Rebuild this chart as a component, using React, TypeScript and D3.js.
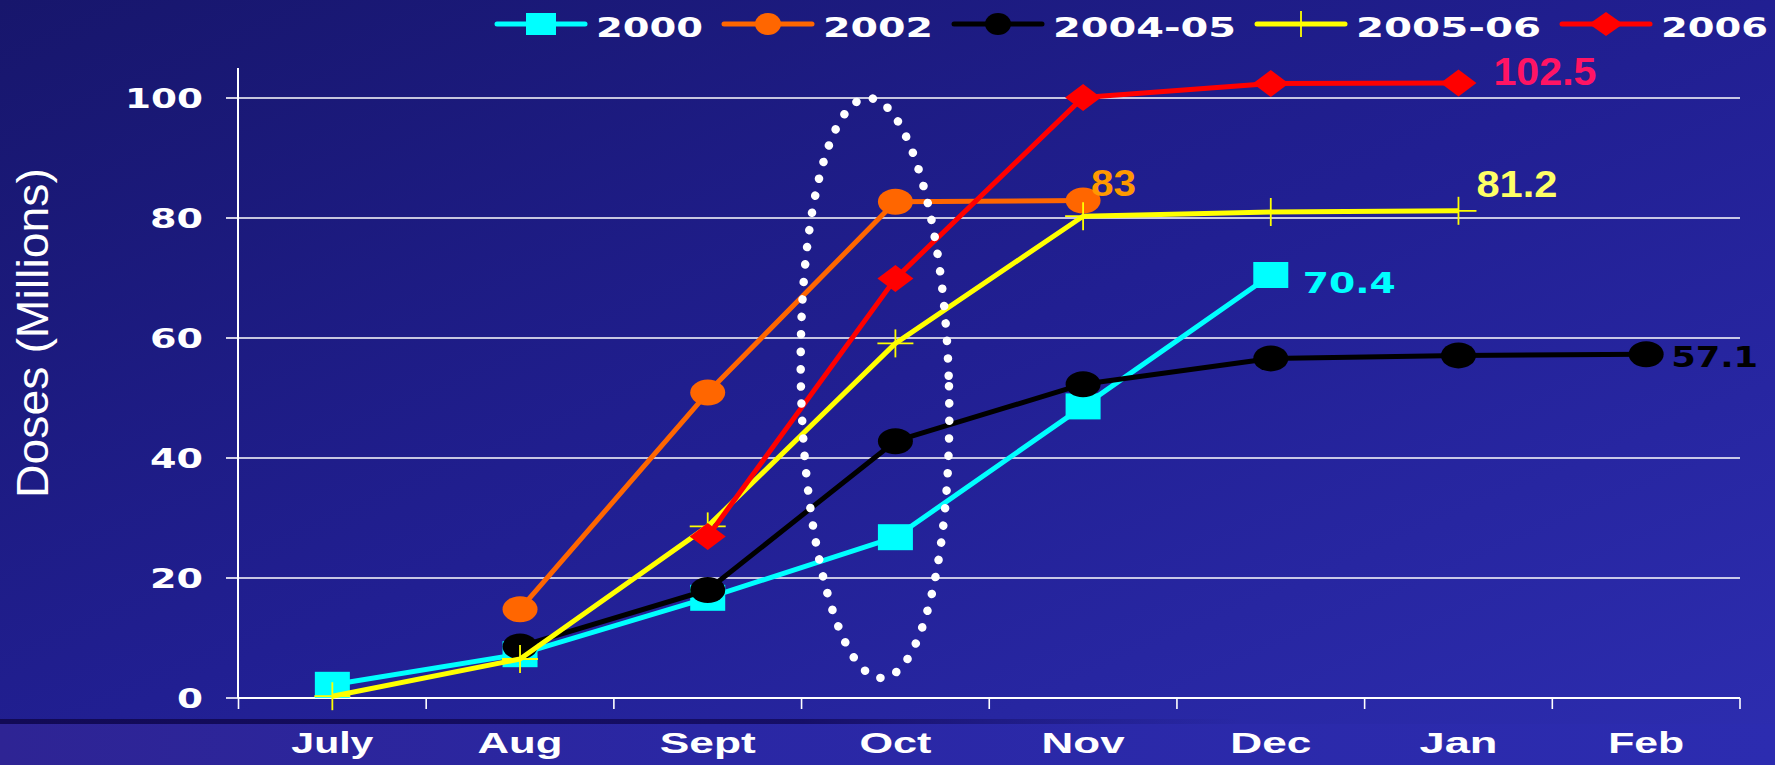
import React from "react";
import * as d3 from "d3";

const months = ["July", "Aug", "Sept", "Oct", "Nov", "Dec", "Jan", "Feb"];
const yTicks = [0, 20, 40, 60, 80, 100];

const seriesNames = ["2000", "2002", "2004-05", "2005-06", "2006"];
const s2000 = [2.2, 7.3, 16.7, 26.8, 48.6, 70.5, null, null];
const s2002 = [null, 14.8, 50.9, 82.7, 82.9, null, null, null];
const s2004 = [null, 8.6, 18.0, 42.8, 52.3, 56.6, 57.1, 57.3];
const s2005 = [0.3, 6.5, 28.6, 59.1, 80.3, 81.0, 81.2, null];
const s2006 = [null, null, 26.9, 69.9, 100.1, 102.4, 102.5, null];

const endLabels = ["70.4", "83", "57.1", "81.2", "102.5"];

const W = 1775;
const H = 765;

type Marker = "square" | "circle" | "ellipse" | "plus" | "diamond";

const styles: { color: string; marker: Marker; labelColor: string; label: { dx: number; dy: number; size: number; len: number; wide: boolean } }[] = [
  { color: "#00ffff", marker: "square", labelColor: "#00ffff", label: { dx: 32, dy: 18, size: 28, len: 93, wide: true } },
  { color: "#ff6600", marker: "circle", labelColor: "#ff9900", label: { dx: 8, dy: -5, size: 37, len: 45, wide: false } },
  { color: "#000000", marker: "circle", labelColor: "#000000", label: { dx: 25, dy: 13, size: 28, len: 87, wide: true } },
  { color: "#ffff00", marker: "plus", labelColor: "#ffff66", label: { dx: 18, dy: -14, size: 37, len: 81, wide: false } },
  { color: "#ff0000", marker: "diamond", labelColor: "#ff1464", label: { dx: 35, dy: 2, size: 38, len: 103, wide: false } },
];

const allSeries = [s2000, s2002, s2004, s2005, s2006];

function MarkerShape({ kind, x, y, color, w, h }: { kind: Marker; x: number; y: number; color: string; w: number; h: number }) {
  if (kind === "square") return <rect x={x - w / 2} y={y - h / 2} width={w} height={h} fill={color} />;
  if (kind === "circle" || kind === "ellipse") return <ellipse cx={x} cy={y} rx={w / 2} ry={h / 2} fill={color} />;
  if (kind === "diamond")
    return <path d={`M${x - w / 2},${y} L${x},${y - h / 2} L${x + w / 2},${y} L${x},${y + h / 2} Z`} fill={color} />;
  return (
    <g stroke={color} strokeWidth={1.8}>
      <line x1={x - w / 2} x2={x + w / 2} y1={y} y2={y} />
      <line x1={x} x2={x} y1={y - h / 2} y2={y + h / 2} />
    </g>
  );
}

export default function App() {
  const x = d3.scaleBand<string>().domain(months).range([238.5, 1740]).padding(0);
  const y = d3.scaleLinear().domain([0, 105]).range([698, 68]);
  const cx = (m: string) => (x(m) as number) + x.bandwidth() / 2;

  const line = d3
    .line<number | null>()
    .defined((d) => d !== null)
    .x((_, i) => cx(months[i]))
    .y((d) => y(d as number));

  const tickEdges = [...months.map((m) => x(m) as number), 1740];

  // legend layout
  const legendLine = 88;
  const legendTextW = [107, 110, 183, 185, 107];
  let lx = 497;
  const legendItems = seriesNames.map((name, i) => {
    const item = { name, x0: lx, tx: lx + legendLine + 11, tw: legendTextW[i] };
    lx = item.tx + item.tw + 21;
    return item;
  });

  const yLabelLen: Record<string, number> = { "0": 26, "20": 53, "40": 53, "60": 53, "80": 53, "100": 78 };
  const monthLen: Record<string, number> = { July: 82, Aug: 85, Sept: 96, Oct: 72, Nov: 83, Dec: 81, Jan: 78, Feb: 76 };
  const markerSize: Record<Marker, [number, number]> = {
    square: [35, 26],
    circle: [35, 26],
    ellipse: [35, 26],
    plus: [36, 28],
    diamond: [36, 27],
  };

  return (
    <svg width={W} height={H} style={{ position: "absolute", left: 0, top: 0, display: "block" }}>
      <defs>
        <linearGradient id="bg" x1="0" y1="0" x2="1" y2="1">
          <stop offset="0" stopColor="#17166c" />
          <stop offset="0.5" stopColor="#211f92" />
          <stop offset="1" stopColor="#2d2db0" />
        </linearGradient>
        <linearGradient id="bottom" x1="0" y1="0" x2="1" y2="0">
          <stop offset="0" stopColor="#2e2494" />
          <stop offset="0.4" stopColor="#2a27a4" />
          <stop offset="1" stopColor="#2c2cb0" />
        </linearGradient>
        <linearGradient id="band" x1="0" y1="0" x2="1" y2="0">
          <stop offset="0" stopColor="#120a55" stopOpacity="1" />
          <stop offset="0.45" stopColor="#140c60" stopOpacity="0.9" />
          <stop offset="0.7" stopColor="#1a1470" stopOpacity="0" />
        </linearGradient>
      </defs>
      <rect x={0} y={0} width={W} height={H} fill="url(#bg)" />
      <rect x={0} y={724} width={W} height={H - 724} fill="url(#bottom)" />
      <rect x={0} y={719} width={W} height={5} fill="url(#band)" />

      {/* legend */}
      {legendItems.map((it, i) => {
        const st = styles[i];
        const mx = it.x0 + legendLine / 2;
        const sz: [number, number] =
          st.marker === "square" ? [30, 22] : st.marker === "circle" ? [26, 22] : st.marker === "diamond" ? [34, 24] : [2, 26];
        return (
          <g key={it.name}>
            <line x1={it.x0} x2={it.x0 + legendLine} y1={24} y2={24} stroke={st.color} strokeWidth={5} strokeLinecap="round" />
            <MarkerShape kind={st.marker} x={mx} y={24} color={st.color} w={sz[0]} h={sz[1]} />
            <text
              x={it.tx}
              y={37}
              fill="#ffffff"
              fontFamily="'DejaVu Sans', sans-serif"
              fontWeight="bold"
              fontSize={27}
              textLength={it.tw}
              lengthAdjust="spacingAndGlyphs"
            >
              {it.name}
            </text>
          </g>
        );
      })}

      {/* gridlines */}
      {yTicks.slice(1).map((t) => (
        <line key={t} x1={238} x2={1740} y1={y(t)} y2={y(t)} stroke="#ffffff" strokeWidth={1.6} />
      ))}

      {/* y axis */}
      <line x1={238} x2={238} y1={y(105)} y2={y(0)} stroke="#ffffff" strokeWidth={2} />
      {yTicks.map((t) => (
        <g key={t}>
          <line x1={226} x2={238} y1={y(t)} y2={y(t)} stroke="#ffffff" strokeWidth={1.6} />
          <text
            x={203}
            y={y(t) + 10}
            textAnchor="end"
            fill="#ffffff"
            fontFamily="'DejaVu Sans', sans-serif"
            fontWeight="bold"
            fontSize={26}
            textLength={yLabelLen[String(t)]}
            lengthAdjust="spacingAndGlyphs"
          >
            {t}
          </text>
        </g>
      ))}

      {/* x axis */}
      <line x1={238} x2={1740} y1={y(0)} y2={y(0)} stroke="#ffffff" strokeWidth={2} />
      {tickEdges.map((e, i) => (
        <line key={i} x1={e} x2={e} y1={y(0)} y2={y(0) + 11} stroke="#ffffff" strokeWidth={1.6} />
      ))}
      {months.map((m) => (
        <text
          key={m}
          x={cx(m)}
          y={753}
          textAnchor="middle"
          fill="#ffffff"
          fontFamily="'Liberation Sans', Arial, sans-serif"
          fontWeight="bold"
          fontSize={30}
          textLength={monthLen[m]}
          lengthAdjust="spacingAndGlyphs"
        >
          {m}
        </text>
      ))}

      {/* axis title */}
      <text
        transform={`translate(48,333) rotate(-90)`}
        textAnchor="middle"
        fill="#ffffff"
        fontFamily="'Liberation Sans', Arial, sans-serif"
        fontSize={44}
        textLength={330}
        lengthAdjust="spacingAndGlyphs"
      >
        Doses (Millions)
      </text>

      {/* series */}
      {allSeries.map((s, i) => {
        const st = styles[i];
        const [mw, mh] = markerSize[st.marker];
        return (
          <g key={seriesNames[i]}>
            <path d={line(s) || ""} fill="none" stroke={st.color} strokeWidth={5} strokeLinejoin="round" />
            {s.map((v, j) =>
              v === null ? null : (
                <MarkerShape key={j} kind={st.marker} x={cx(months[j])} y={y(v)} color={st.color} w={mw} h={mh} />
              )
            )}
          </g>
        );
      })}

      {/* dotted ellipse */}
      <ellipse
        cx={875}
        cy={388}
        rx={74}
        ry={290}
        transform="rotate(-1.4 875 388)"
        fill="none"
        stroke="#ffffff"
        strokeWidth={8.5}
        strokeLinecap="round"
        strokeDasharray="0.1 17.3"
      />

      {/* end labels */}
      {allSeries.map((s, i) => {
        const st = styles[i];
        let last = -1;
        s.forEach((v, j) => {
          if (v !== null) last = j;
        });
        const v = s[last] as number;
        return (
          <text
            key={i}
            x={cx(months[last]) + st.label.dx}
            y={y(v) + st.label.dy}
            fill={st.labelColor}
            fontFamily={st.label.wide ? "'DejaVu Sans', sans-serif" : "'Liberation Sans', Arial, sans-serif"}
            fontWeight="bold"
            fontSize={st.label.size}
            textLength={st.label.len}
            lengthAdjust="spacingAndGlyphs"
          >
            {endLabels[i]}
          </text>
        );
      })}
    </svg>
  );
}
